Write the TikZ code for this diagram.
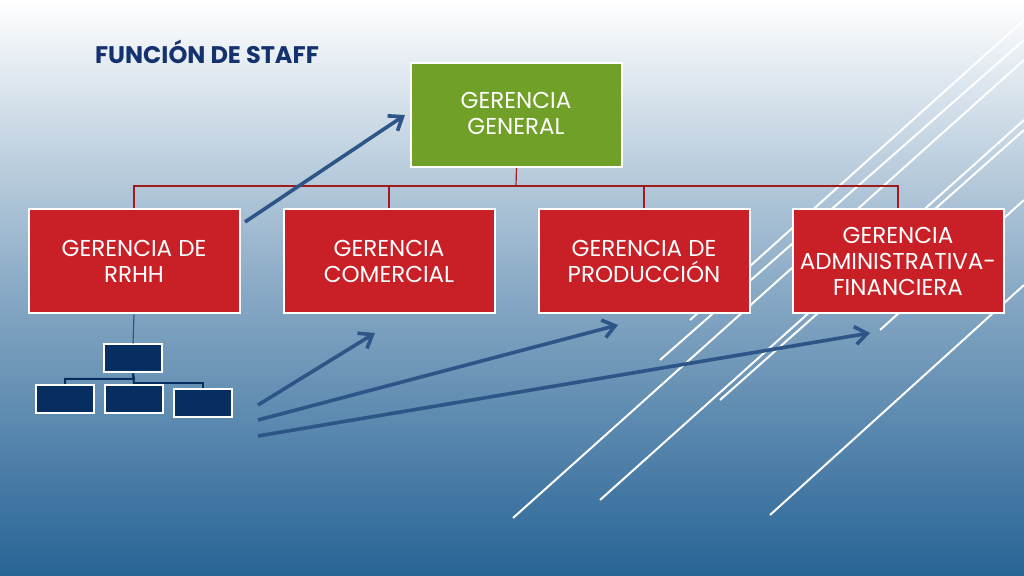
\documentclass[tikz,border=0pt]{standalone}
\usepackage{fontspec}
\setmainfont{Poppins}
\usetikzlibrary{arrows.meta}
\definecolor{bgblue}{RGB}{40,100,150}
\definecolor{ggreen}{RGB}{112,160,40}
\definecolor{gred}{RGB}{200,32,38}
\definecolor{navy}{RGB}{8,45,95}
\definecolor{arrowblue}{RGB}{45,85,135}
\definecolor{titleblue}{RGB}{20,50,110}
\tikzset{
  bigbox/.style={draw=white,line width=1pt,minimum width=105.5pt,minimum height=52pt,text=white,font=\fontsize{11.5}{13}\selectfont,align=center,inner sep=2pt},
  smallbox/.style={draw=white,line width=1pt,fill=navy,minimum width=29pt,minimum height=14pt},
  conn/.style={draw=gred!80!black,line width=0.6pt},
  sconn/.style={draw=navy,line width=1pt},
  arr/.style={draw=arrowblue,line width=1.8pt,-{Straight Barb[length=6pt,width=9pt]}},
  wline/.style={draw=white,line width=1pt}
}
\begin{document}
\begin{tikzpicture}[x=0.5pt,y=-0.5pt]
\shade[top color=white,bottom color=bgblue,middle color=bgblue!55] (0,0) rectangle (1024,576);
\useasboundingbox (0,0) rectangle (1024,576);
% white diagonal lines
\draw[wline] (513,518) -- (1024,60);
\draw[wline] (600,500) -- (1024,120);
\draw[wline] (770,515) -- (1024,285);
\draw[wline] (690,320) -- (1024,20);
\draw[wline] (660,360) -- (1024,40);
\draw[wline] (720,400) -- (1024,130);
\draw[wline] (880,330) -- (1024,200);
\node[font=\bfseries\fontsize{12}{14}\selectfont,text=titleblue,anchor=west] (title) at (88,52) {FUNCIÓN DE STAFF};
\node[bigbox,fill=ggreen,anchor=north west] (gg) at (410,62) {};
\node[text=white,font=\fontsize{11.5}{13}\selectfont,align=center] (ggt) at (516,113) {GERENCIA\\GENERAL};
\node[bigbox,fill=gred] (r1) at (134,261.5) {GERENCIA DE\\RRHH};
\node[bigbox,fill=gred] (r2) at (389,261.5) {GERENCIA\\COMERCIAL};
\node[bigbox,fill=gred] (r3) at (644,261.5) {GERENCIA DE\\PRODUCCIÓN};
\node[bigbox,fill=gred] (r4) at (898,261.5) {GERENCIA\\ADMINISTRATIVA-\\FINANCIERA};
\coordinate (bus) at (516,186);
\draw[conn] (gg.south) -- (bus);
\draw[conn] (r1.north) |- (bus) -| (r4.north);
\draw[conn] (r2.north) -- (r2.north |- bus);
\draw[conn] (r3.north) -- (r3.north |- bus);
% small chart
\node[smallbox] (s0) at (133,358.5) {};
\node[smallbox] (s1) at (65,399) {};
\node[smallbox] (s2) at (134,399) {};
\node[smallbox] (s3) at (203,403) {};
\draw[draw=arrowblue,line width=0.6pt] (r1.south) -- (s0.north);
\draw[sconn] (s1.north) |- (134,379) -- (s0.south);
\draw[sconn] (s2.north) -- (s0.south);
\draw[sconn] (s3.north) |- (134,383);
% arrows
\coordinate (a0) at (245,222);
\coordinate (a1) at (258,405);
\coordinate (a2) at (258,420);
\coordinate (a3) at (258,436);
\draw[arr] (a0) -- (405,115);
\draw[arr] (a1) -- (375,333);
\draw[arr] (a2) -- (618,325);
\draw[arr] (a3) -- (870,333);
\end{tikzpicture}
\end{document}
